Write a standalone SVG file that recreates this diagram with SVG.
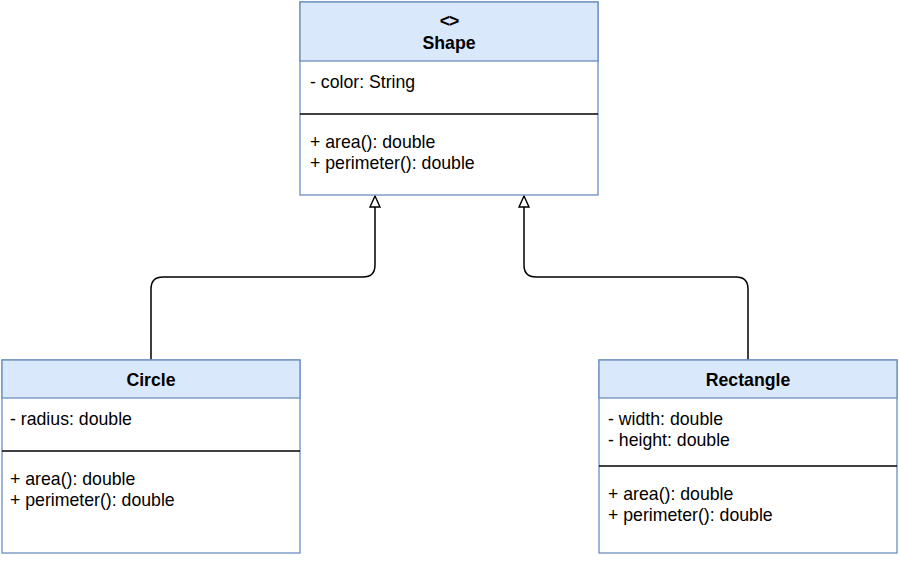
<svg xmlns="http://www.w3.org/2000/svg" width="900" height="561" viewBox="0 0 900 561">
<style>
.box{fill:#ffffff;stroke:#6c8ebf;stroke-width:1.3}
.hdr{fill:#dae8fc;stroke:#6c8ebf;stroke-width:1.3}
.div{stroke:#000000;stroke-width:1.3}
text{font-family:"Liberation Sans",Arial,Helvetica,sans-serif;font-size:17.7px;fill:#000000}
.t{font-weight:bold;text-anchor:middle}
.conn{fill:none;stroke:#000000;stroke-width:1.5}
</style>
<defs>
<marker id="inh" viewBox="0 0 14 14" refX="13" refY="7" markerWidth="14" markerHeight="14" markerUnits="userSpaceOnUse" orient="auto">
<path d="M2,2 L13,7 L2,12 Z" fill="#ffffff" stroke="#000000" stroke-width="1.4"/>
</marker>
</defs>
<g id="connectors">
<path class="conn" d="M151,360 V289 Q151,277 163,277 H363 Q375,277 375,265 V196" marker-end="url(#inh)"/>
<path class="conn" d="M748,360 V289 Q748,277 736,277 H536 Q524,277 524,265 V196" marker-end="url(#inh)"/>
</g>
<g id="shape">
<rect class="box" x="300" y="2" width="298" height="193"/>
<rect class="hdr" x="300" y="2" width="298" height="59"/>
<line class="div" x1="300" y1="114" x2="598" y2="114"/>
<text class="t" x="449" y="27" letter-spacing="-1">&lt;&gt;</text>
<text class="t" x="449" y="49">Shape</text>
<text x="310" y="88">- color: String</text>
<text x="310" y="148">+ area(): double</text>
<text x="310" y="169">+ perimeter(): double</text>
</g>
<g id="circle">
<rect class="box" x="2" y="360" width="298" height="193"/>
<rect class="hdr" x="2" y="360" width="298" height="38"/>
<line class="div" x1="2" y1="451" x2="300" y2="451"/>
<text class="t" x="151" y="386">Circle</text>
<text x="10" y="425">- radius: double</text>
<text x="10" y="485">+ area(): double</text>
<text x="10" y="506">+ perimeter(): double</text>
</g>
<g id="rectangle">
<rect class="box" x="599" y="360" width="298" height="193"/>
<rect class="hdr" x="599" y="360" width="298" height="38"/>
<line class="div" x1="599" y1="466" x2="897" y2="466"/>
<text class="t" x="748" y="386">Rectangle</text>
<text x="608" y="425">- width: double</text>
<text x="608" y="446">- height: double</text>
<text x="608" y="500">+ area(): double</text>
<text x="608" y="521">+ perimeter(): double</text>
</g>
</svg>
